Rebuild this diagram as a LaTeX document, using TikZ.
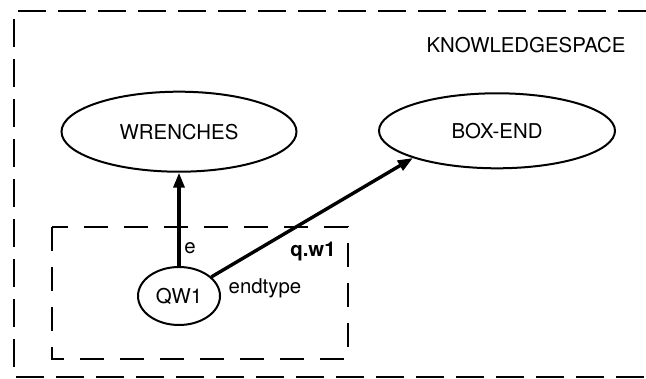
\documentclass[tikz,border=0pt]{standalone}
\usepackage{fontspec}
\setmainfont{TeX Gyre Heros}
\usetikzlibrary{shapes.geometric,arrows.meta}
\begin{document}
\begin{tikzpicture}[x=0.5pt,y=-0.5pt,
    every node/.style={font=\fontsize{10.2}{12}\selectfont},
    dashbox/.style={line width=1.3pt,dash pattern=on 14pt off 6pt}]
  \useasboundingbox (0,0) rectangle (646,379);
  % space boundaries
  \draw[dashbox] (646,11) -- (14,11) -- (14,377) -- (646,377);
  \draw[dashbox,dash pattern=on 12pt off 8pt] (52,227) rectangle (348,359);
  \node (ks) at (526,45) {KNOWLEDGESPACE};
  \begin{scope}[every node/.append style={ellipse,draw,line width=1pt,inner sep=0pt}]
    \node[minimum width=117.5pt,minimum height=40pt] (wrenches) at (179,131.7) {WRENCHES};
    \node[minimum width=118pt,minimum height=37.5pt] (boxend) at (497,130.8) {BOX-END};
    \node[minimum width=41pt,minimum height=29pt] (qw1) at (179,296) {QW1};
  \end{scope}
  \begin{scope}[every edge/.style={draw=black,line width=1.7pt,-{Triangle[length=7.5pt,width=5.5pt]}}]
    \path (qw1) edge (wrenches);
    \path (qw1) edge (boxend.south west);
  \end{scope}
  \node (e) at (190,248) {e};
  \node (qw1lab) at (313,251) {\bfseries q.w1};
  \node (endtype) at (265,288) {endtype};
\end{tikzpicture}
\end{document}
